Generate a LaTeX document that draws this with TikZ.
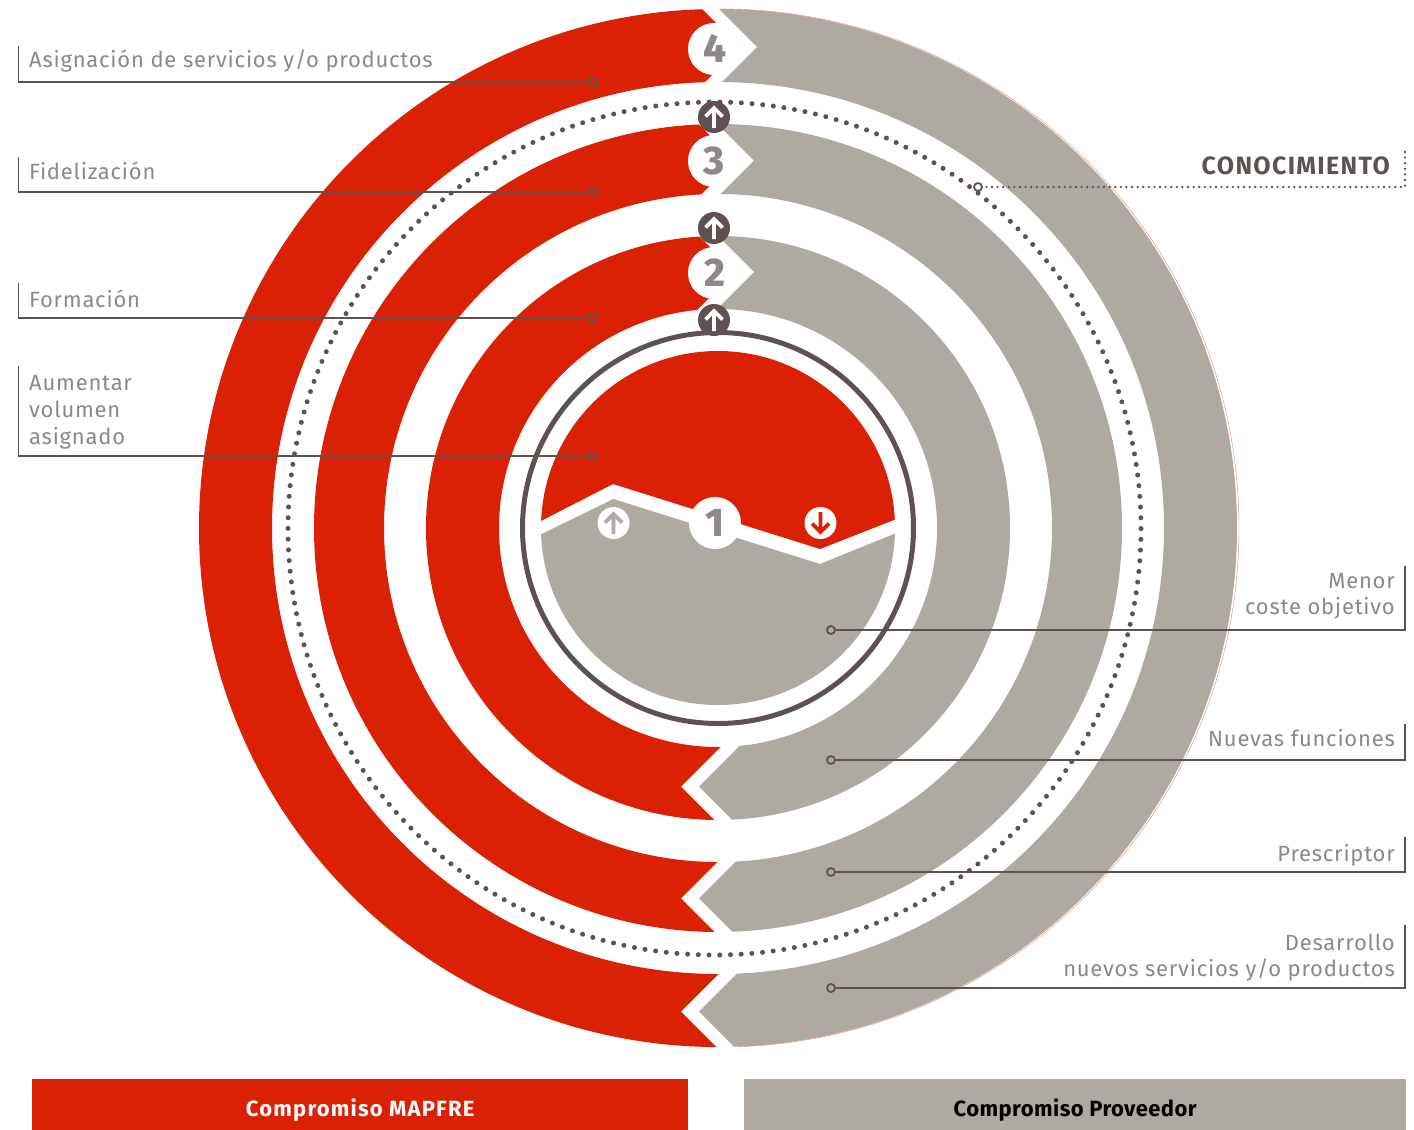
\documentclass[tikz,border=0pt]{standalone}
\usepackage{fontspec}
\setmainfont{Fira Sans}
\newfontfamily\lblfont[LetterSpace=3.5]{Fira Sans}
\newfontfamily\boldfont[LetterSpace=2]{Fira Sans}
\newfontfamily\widefont[LetterSpace=5.4]{Fira Sans}
\newfontfamily\numfont{Fira Sans ExtraBold}
\definecolor{mred}{HTML}{DA2005}
\definecolor{mgray}{HTML}{AEA9A1}
\definecolor{mdark}{HTML}{5E5150}
\definecolor{mtext}{HTML}{8D8786}
\definecolor{mnum}{HTML}{8F8888}
\tikzset{
  lbl/.style={font=\lblfont\fontsize{22}{27}\selectfont,text=mtext,inner sep=0pt},
  lblL/.style={lbl,anchor=base west},
  lblR/.style={lbl,anchor=base east},
  leader/.style={draw=mdark,line width=1.5pt},
  endpt/.style={circle,draw=mdark,line width=1.8pt,minimum size=8pt,inner sep=0pt},
  numdisc/.style={circle,fill=white,minimum size=52pt,inner sep=0pt,text=mnum,font=\numfont\fontsize{40}{40}\selectfont},
  updisc/.style={circle,fill=mdark,minimum size=32pt,inner sep=0pt},
  arrowup/.style={draw=white,line width=3.6pt,miter limit=10},
  barbox/.style={minimum height=51pt,inner sep=0pt,anchor=north west,text height=30pt,text depth=7pt},
}
% half ring: colour, outer r, inner r, top tip x, y, bottom tip x, y, far x
\newcommand\halfring[8]{%
  \begin{scope}
    \clip (#4-45,#5-45) -- (#4,#5) -- (#4-45,#5+45) -- (#6+45,#7-45) -- (#6,#7) -- (#6+45,#7+45) -- (#8,#7+45) -- (#8,#5-45) -- cycle;
    \fill[#1,even odd rule] (718,528) circle[radius=#2pt] (718,528) circle[radius=#3pt];
  \end{scope}}
\newcommand\uparr[2]{\draw[arrowup,#2] (#1) ++(0,11) -- ++(0,-20) ++(-8.5,8.5) -- ++(8.5,-8.5) -- ++(8.5,8.5);}
\begin{document}
\begin{tikzpicture}[x=1pt,y=-1pt]
\useasboundingbox (0,0) rectangle (1414,1130);
% rings
\halfring{mred}{519}{446}{740}{47}{681}{1011.7}{100}
\halfring{mgray}{519}{446}{757}{47}{699}{1011.7}{1300}
\halfring{mred}{404}{334}{735}{160.7}{681}{898.3}{100}
\halfring{mgray}{404}{334}{754}{160.7}{699}{898.3}{1300}
\halfring{mred}{292}{219}{735}{272}{681}{786.7}{100}
\halfring{mgray}{292}{219}{754}{272}{699}{786.7}{1300}
% thin edge of the grey ring
\draw[mred!55,line width=.4pt] (720,9) arc[start angle=90,end angle=-88,radius=519pt];
% inner disc
\begin{scope}
  \clip (530,526.6) -- (613,484) -- (820,549) -- (905,515.7) -- (905,340) -- (530,340) -- cycle;
  \fill[mred] (718,528) circle[radius=177pt];
\end{scope}
\begin{scope}
  \clip (530,539.6) -- (613.5,499) -- (820,564) -- (905,529.5) -- (905,720) -- (530,720) -- cycle;
  \fill[mgray] (718,528) circle[radius=177pt];
\end{scope}
\draw[mdark,line width=5pt] (718,528) circle[radius=195.5pt];
\draw[mdark,line width=5pt,line cap=round,dash pattern=on 0pt off 10.72pt] (714.5,528.5) circle[radius=426.5pt];
% number discs
\node[numdisc] (n4) at (714,49) {\hspace*{1pt}4};
\node[numdisc] (n3) at (714,161) {\hspace*{1pt}3};
\node[numdisc] (n2) at (714,273) {\hspace*{1pt}2};
\node[numdisc] (n1) at (715,523) {1};
% arrow discs
\node[updisc] (a3) at (714,117) {};
\node[updisc] (a2) at (714,228) {};
\node[updisc] (a1) at (714,320) {};
\uparr{a3}{}
\uparr{a2}{}
\uparr{a1}{}
\node[updisc,fill=white] (g1) at (613.5,523) {};
\draw[arrowup,draw=mgray] (g1) ++(0,11) -- ++(0,-20) ++(-8.5,8.5) -- ++(8.5,-8.5) -- ++(8.5,8.5);
\node[updisc,fill=white] (r1) at (820.5,523) {};
\draw[arrowup,draw=mred] (r1) ++(0,-11) -- ++(0,20) ++(-8.5,-8.5) -- ++(8.5,8.5) -- ++(8.5,-8.5);
% left leaders
\node[lblL] (t1) at (29,67.5) {Asignación de servicios y/o productos};
\node[lblL] (t2) at (29,179.5) {Fidelización};
\node[lblL] (t3) at (29,307.5) {Formación};
\node[lblL] (t4a) at (29,390) {Aumentar};
\node[lblL] (t4b) at (29,417) {volumen};
\node[lblL] (t4c) at (29,444) {asignado};
\node[endpt] (e1) at (593,82) {};
\node[endpt] (e2) at (593,192) {};
\node[endpt] (e3) at (593,318) {};
\node[endpt] (e4) at (593,456) {};
\coordinate (c1) at (18.5,46);
\coordinate (c2) at (18.5,157);
\coordinate (c3) at (18.5,283);
\coordinate (c4) at (18.5,366);
\draw[leader] (c1) |- (e1);
\draw[leader] (c2) |- (e2);
\draw[leader] (c3) |- (e3);
\draw[leader] (c4) |- (e4);
% right leaders
\node[lblR] (t5a) at (1395,588) {Menor};
\node[lblR] (t5b) at (1395,614) {coste objetivo};
\node[lblR] (t6) at (1395,746) {Nuevas funciones};
\node[lblR] (t7) at (1395,861) {Prescriptor};
\node[lblR] (t8a) at (1395,950) {Desarrollo};
\node[lblR] (t8b) at (1395,976) {nuevos servicios y/o productos};
\node[endpt] (e5) at (831,630) {};
\node[endpt] (e6) at (831,760) {};
\node[endpt] (e7) at (831,872) {};
\node[endpt] (e8) at (831,988) {};
\coordinate (c5) at (1405,566);
\coordinate (c6) at (1405,724);
\coordinate (c7) at (1405,837);
\coordinate (c8) at (1405,925);
\draw[leader] (c5) |- (e5);
\draw[leader] (c6) |- (e6);
\draw[leader] (c7) |- (e7);
\draw[leader] (c8) |- (e8);
% conocimiento
\node[anchor=base east,inner sep=0pt,text=mdark,font=\widefont\fontsize{25}{25}\selectfont\bfseries] (tc) at (1390,174) {CONOCIMIENTO};
\node[endpt] (ec) at (978,187) {};
\coordinate (cc) at (1405,152);
\draw[mdark,line width=2.6pt,line cap=round,dash pattern=on 0pt off 5.6pt] (cc) |- (ec);
% bars
\node[barbox,fill=mred,text=white,minimum width=656pt,font=\widefont\fontsize{22}{24}\selectfont\bfseries] (b1) at (32,1079) {Compromiso MAPFRE};
\node[barbox,fill=mgray,text=black,minimum width=662pt,font=\boldfont\fontsize{22}{24}\selectfont\bfseries] (b2) at (744,1079) {Compromiso Proveedor};
\end{tikzpicture}
\end{document}
